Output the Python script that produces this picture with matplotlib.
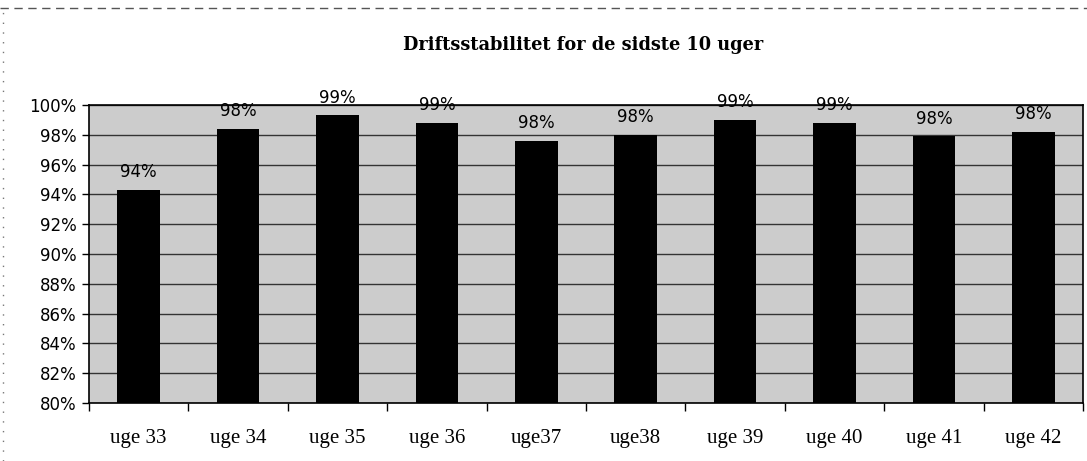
import matplotlib
matplotlib.use("Agg")
import matplotlib.pyplot as plt
from matplotlib.ticker import MultipleLocator, FuncFormatter, FixedLocator
from matplotlib.lines import Line2D

categories = ["uge 33", "uge 34", "uge 35", "uge 36", "uge37",
              "uge38", "uge 39", "uge 40", "uge 41", "uge 42"]
values = [94.3, 98.4, 99.3, 98.8, 97.6, 98.0, 99.0, 98.8, 97.9, 98.2]
title = "Driftsstabilitet for de sidste 10 uger"

fig = plt.figure(figsize=(10.87, 4.61), dpi=100)
ax = fig.add_axes([0.0819, 0.1258, 0.9144, 0.6464])
ax.set_facecolor("#cccccc")

x = list(range(len(categories)))
ax.bar(x, values, width=0.43, color="black", zorder=3)

ax.set_ylim(80, 100)
ax.set_xlim(-0.5, len(categories) - 0.5)
ax.yaxis.set_major_locator(MultipleLocator(2))
ax.yaxis.set_major_formatter(FuncFormatter(lambda v, p: f"{v:.0f}%"))
ax.grid(axis="y", color="#333333", linewidth=1.0, zorder=1)
ax.set_axisbelow(True)

ax.set_xticks(x)
ax.set_xticklabels(categories, fontfamily="Liberation Serif", fontsize=15)
ax.xaxis.set_minor_locator(FixedLocator([i - 0.5 for i in range(len(categories) + 1)]))
ax.tick_params(axis="x", which="major", length=0, pad=19)
ax.tick_params(axis="x", which="minor", length=6, width=1, direction="out", color="black")
ax.tick_params(axis="y", which="major", length=5, width=1, direction="out",
               labelsize=12, pad=4)
for lab in ax.get_yticklabels():
    lab.set_fontfamily("DejaVu Sans")

for s in ax.spines.values():
    s.set_color("black")
    s.set_linewidth(1.2)

for xi, v in zip(x, values):
    ax.annotate(f"{v:.0f}%", xy=(xi, v), xytext=(0, 9), textcoords="offset points",
                ha="center", va="baseline", fontsize=12, fontfamily="DejaVu Sans",
                color="black", zorder=4)

fig.text(0.536, 0.902, title, ha="center", va="center", fontsize=12.8,
         fontweight="bold", fontfamily="DejaVu Serif")

# scanned frame edges
fig.add_artist(Line2D([0.0, 1.0], [0.983, 0.983], transform=fig.transFigure,
                      color="#555555", linewidth=1, linestyle=(0, (6, 4))))
fig.add_artist(Line2D([0.003, 0.003], [0.0, 0.983], transform=fig.transFigure,
                      color="#777777", linewidth=1, linestyle=(0, (1, 6))))

fig.savefig("out.png", dpi=100)
